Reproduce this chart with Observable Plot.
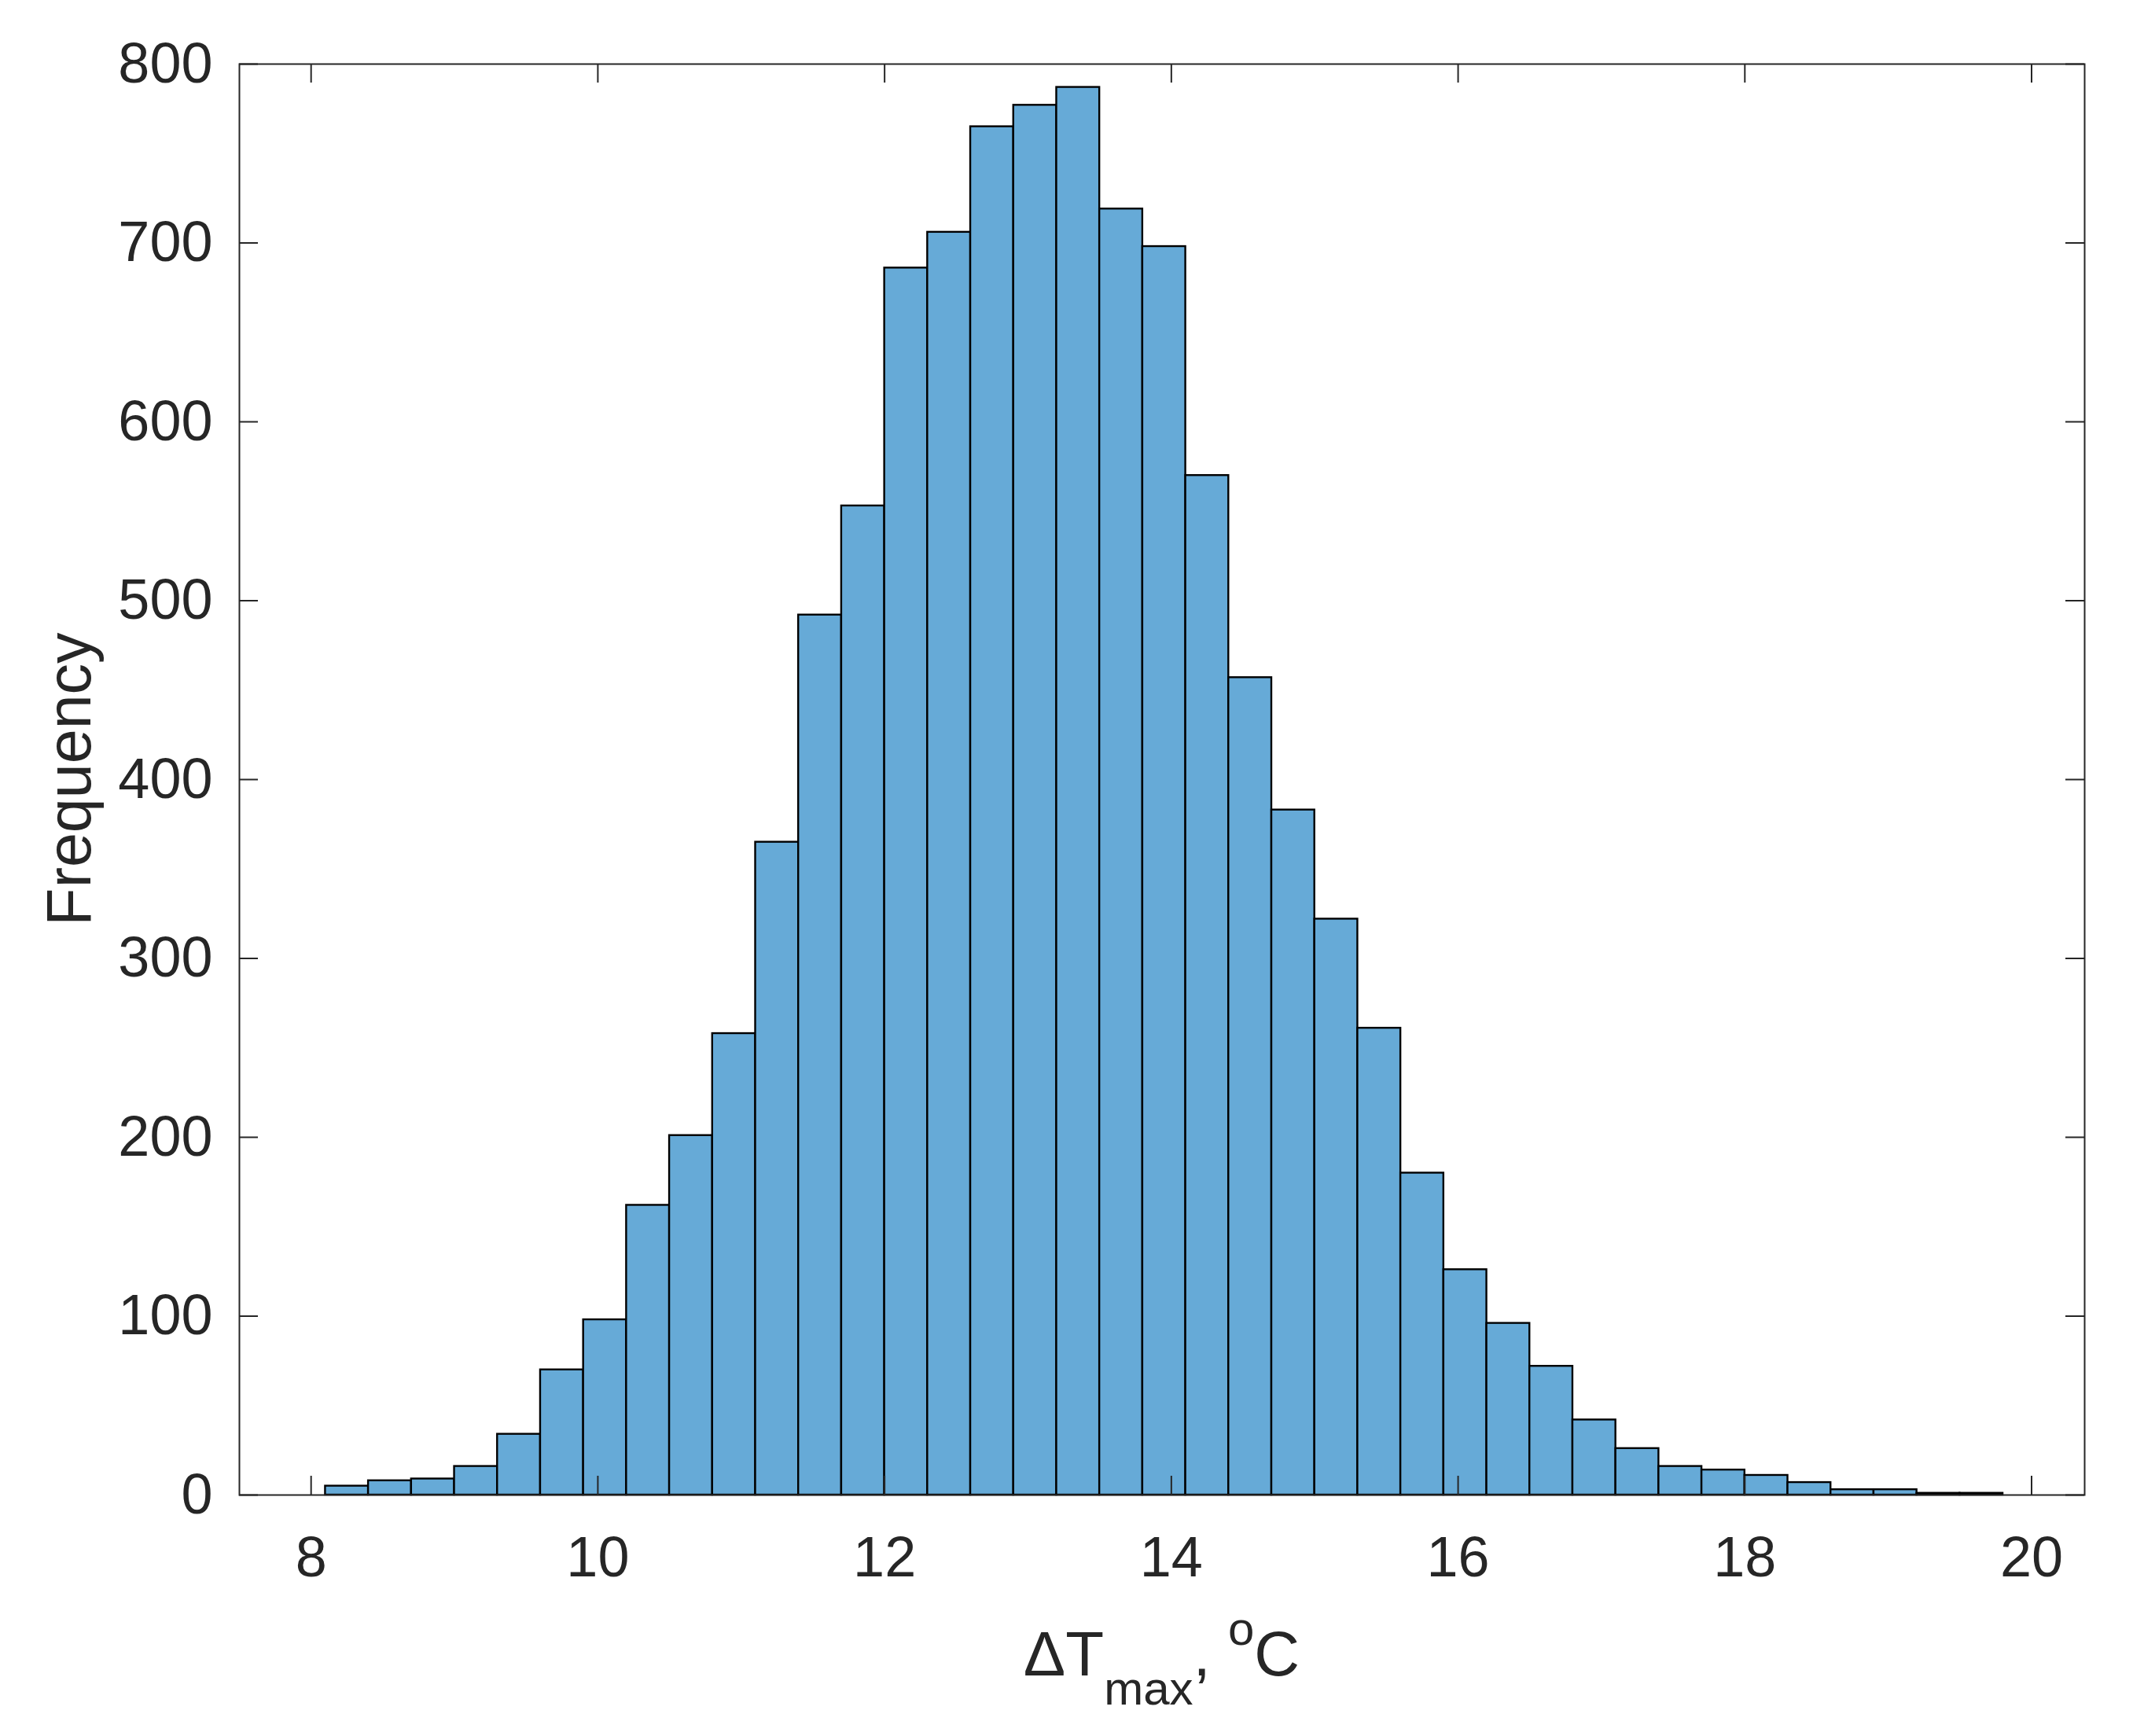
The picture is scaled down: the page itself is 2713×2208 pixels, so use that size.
<!DOCTYPE html>
<html>
<head>
<meta charset="utf-8">
<script src="https://cdn.jsdelivr.net/npm/d3@7"></script>
<script src="https://cdn.jsdelivr.net/npm/@observablehq/plot@0.6"></script>
<style>
  html, body { margin: 0; padding: 0; background: #ffffff; }
</style>
</head>
<body>
<div id="chart"></div>
<script>
// Histogram bin edges (°C)
const binEdges = [8.1, 8.4, 8.7, 9.0, 9.3, 9.6, 9.9, 10.2, 10.5, 10.8,
  11.1, 11.4, 11.7, 12.0, 12.3, 12.6, 12.9, 13.2, 13.5, 13.8,
  14.1, 14.4, 14.7, 15.0, 15.3, 15.6, 15.9, 16.2, 16.5, 16.8,
  17.1, 17.4, 17.7, 18.0, 18.3, 18.6, 18.9, 19.2, 19.5, 19.8];
// Frequencies per bin
const counts = [5, 8, 9, 16, 34, 70, 98, 162, 201, 258,
  365, 492, 553, 686, 706, 765, 777, 787, 719, 698,
  570, 457, 383, 322, 261, 180, 126, 96, 72, 42,
  26, 16, 14, 11, 7, 3, 3, 1, 1];
const xTicks = [8, 10, 12, 14, 16, 18, 20];
const yTicks = [0, 100, 200, 300, 400, 500, 600, 700, 800];
const xLabel = {delta: "\u0394T", sub: "max", sep: ", ", sup: "o", unit: "C"};
const yLabel = "Frequency";

const bins = counts.map((c, i) => ({x1: binEdges[i], x2: binEdges[i + 1], y: c}));

const W = 2713, H = 2208;
const mL = 304, mR = 62, mT = 81, mB = 307;
const innerW = W - mL - mR, innerH = H - mT - mB;
const tickLen = 24;
const ink = "#262626";
const fontStack = "'Liberation Sans', Arial, Helvetica, sans-serif";

const chart = Plot.plot({
  width: W,
  height: H,
  marginLeft: mL,
  marginRight: mR,
  marginTop: mT,
  marginBottom: mB,
  style: {fontFamily: fontStack, color: ink, background: "#ffffff"},
  x: {domain: [7.5, 20.37]},
  y: {domain: [0, 800]},
  marks: [
    Plot.rectY(bins, {x1: "x1", x2: "x2", y: "y", fill: "#66AAD7", stroke: "#000000", strokeWidth: 2.4}),
    Plot.tickX(xTicks, {x: d => d, insetTop: innerH - tickLen, stroke: ink, strokeWidth: 2}),
    Plot.tickX(xTicks, {x: d => d, insetBottom: innerH - tickLen, stroke: ink, strokeWidth: 2}),
    Plot.tickY(yTicks, {y: d => d, insetRight: innerW - tickLen, stroke: ink, strokeWidth: 2}),
    Plot.tickY(yTicks, {y: d => d, insetLeft: innerW - tickLen, stroke: ink, strokeWidth: 2}),
    Plot.frame({stroke: ink, strokeWidth: 2}),
    Plot.axisX(xTicks, {tickSize: 0, tickPadding: 52, fontSize: 72, label: null, fill: ink, tickFormat: d3.format("d")}),
    Plot.axisY(yTicks, {tickSize: 0, tickPadding: 34, fontSize: 72, label: null, fill: ink, tickFormat: d3.format("d")})
  ]
});

document.getElementById("chart").appendChild(chart);

const svg = d3.select(chart);
// X axis label with subscript / superscript
const xl = svg.append("text")
  .attr("x", mL + innerW / 2)
  .attr("y", 2131)
  .attr("text-anchor", "middle")
  .attr("fill", ink)
  .style("font-family", fontStack)
  .style("font-size", "80px");
xl.append("tspan").text(xLabel.delta);
xl.append("tspan").attr("dy", 37).style("font-size", "60px").text(xLabel.sub);
xl.append("tspan").attr("dy", -37).text(xLabel.sep);
xl.append("tspan").attr("dy", -39).style("font-size", "60px").text(xLabel.sup);
xl.append("tspan").attr("dy", 39).text(xLabel.unit);

// Y axis label
svg.append("text")
  .attr("transform", `translate(115,${mT + innerH / 2}) rotate(-90)`)
  .attr("text-anchor", "middle")
  .attr("fill", ink)
  .style("font-family", fontStack)
  .style("font-size", "79px")
  .text(yLabel);
</script>
</body>
</html>
